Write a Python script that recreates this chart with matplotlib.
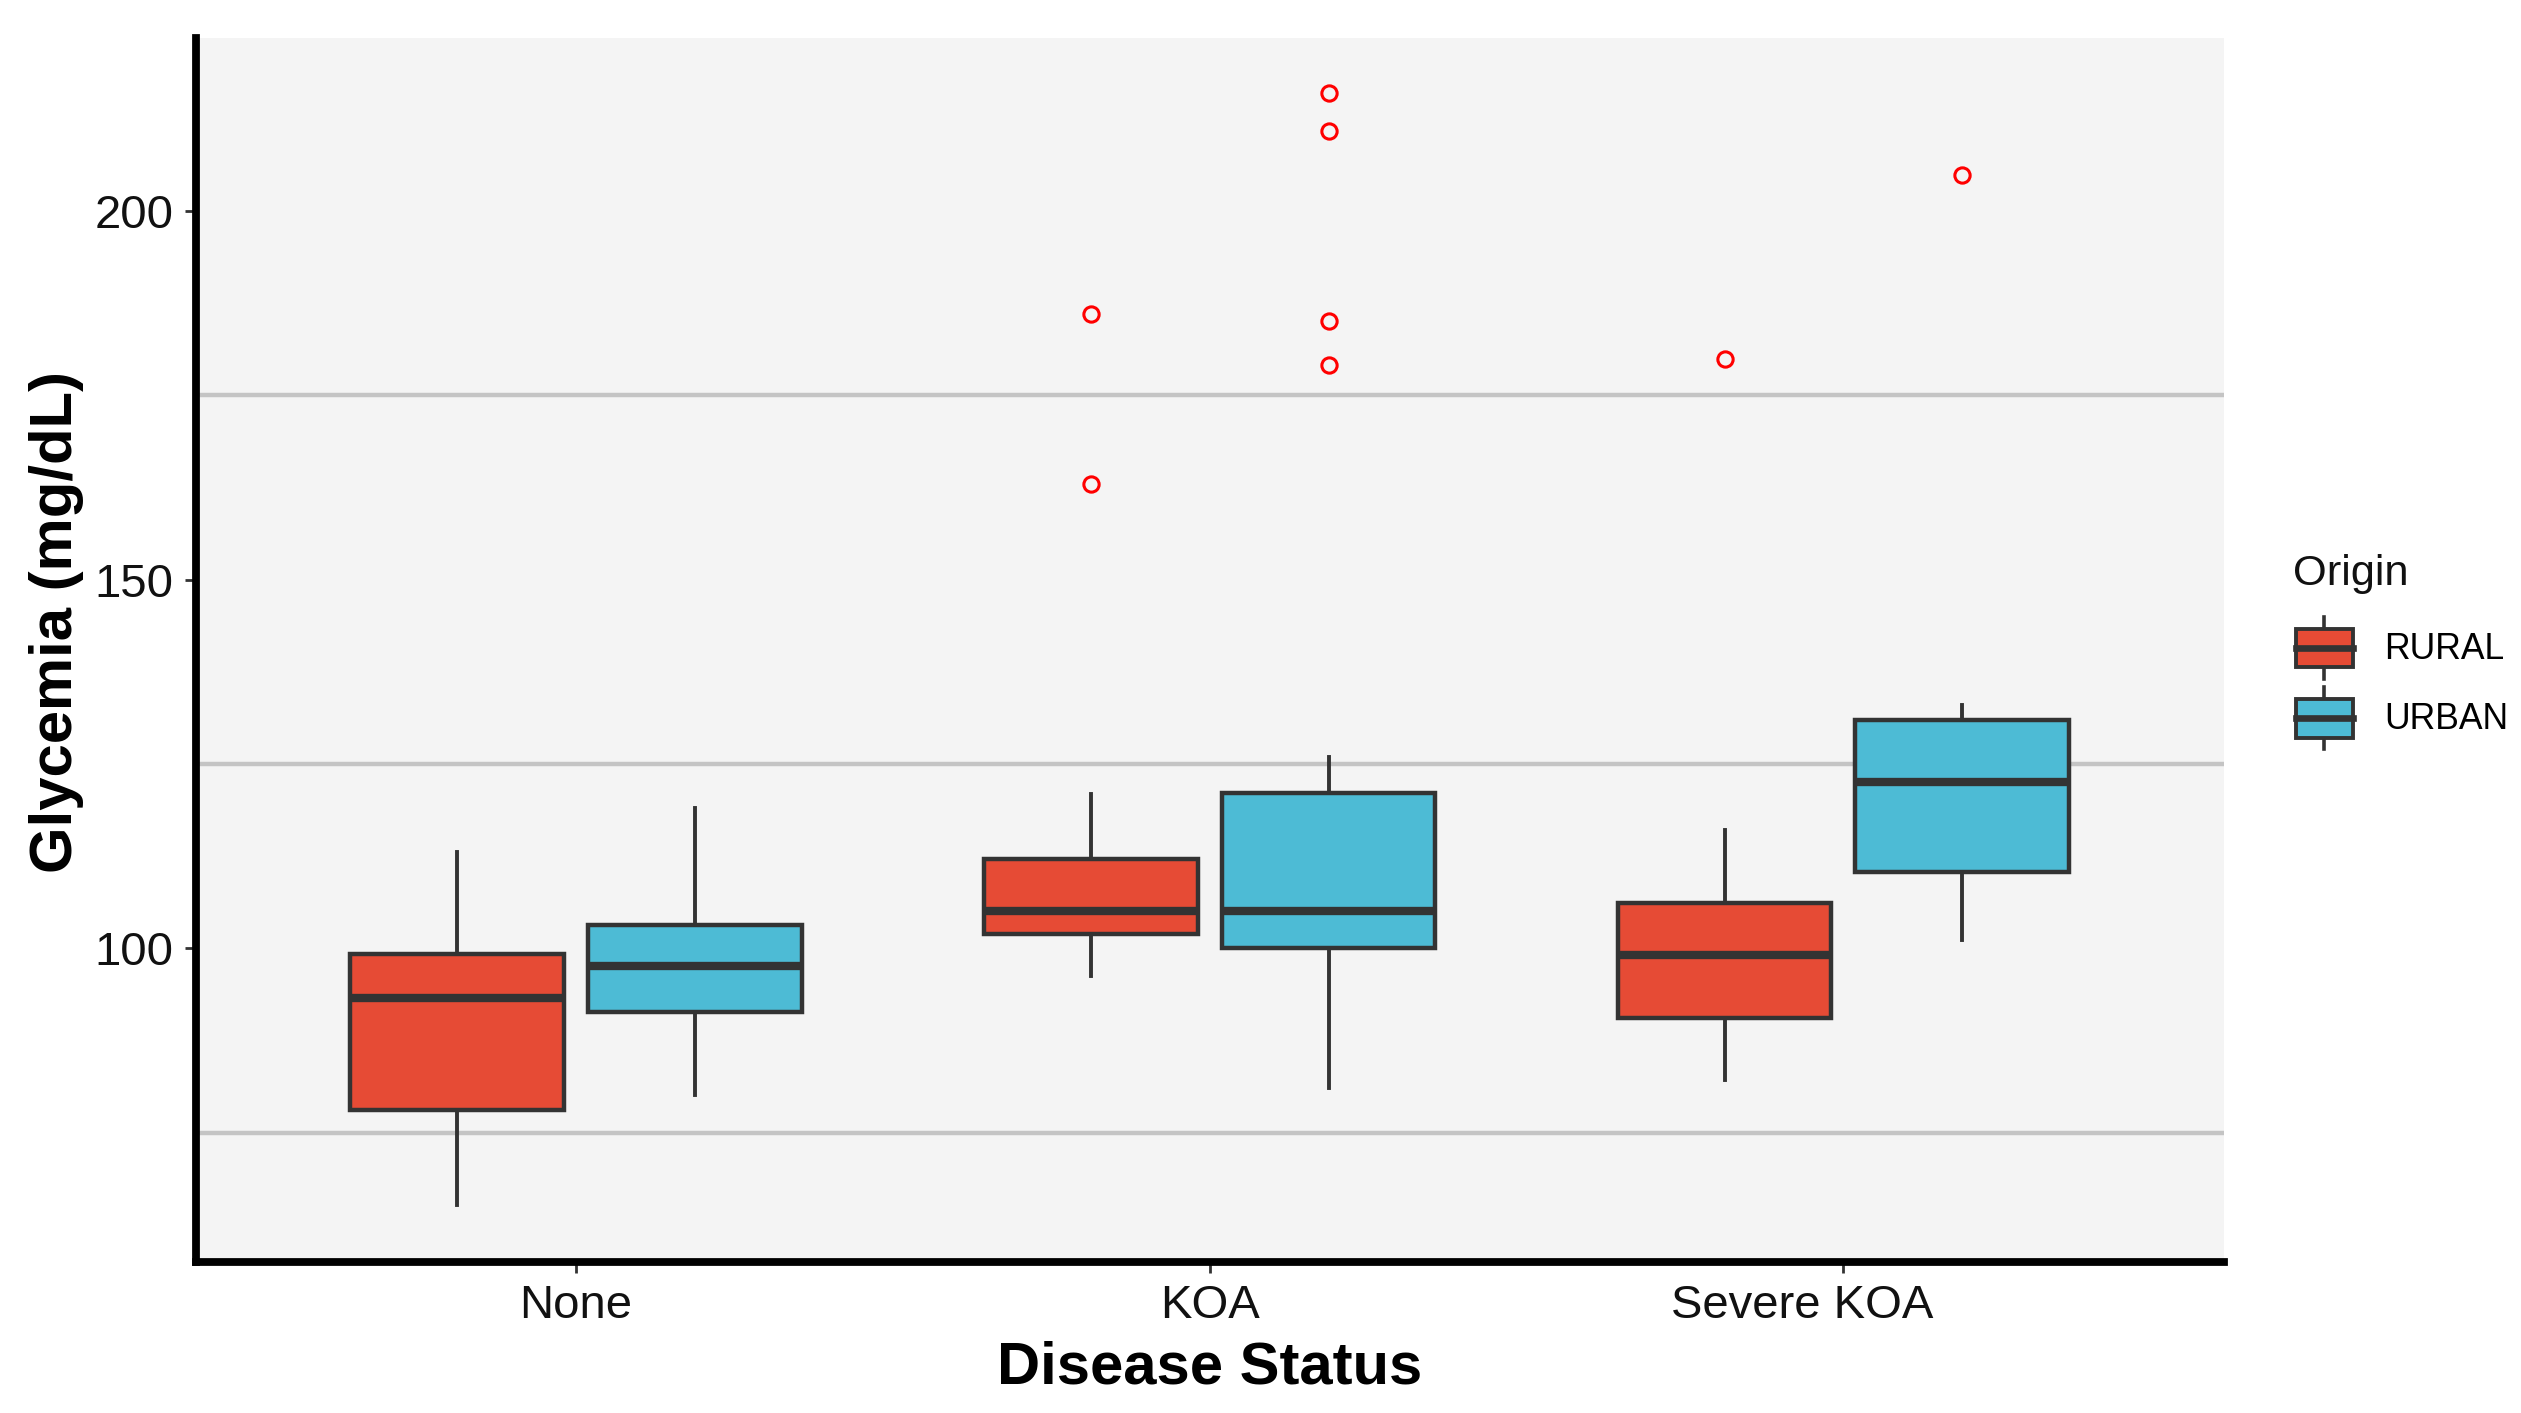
import matplotlib
matplotlib.use("Agg")
import matplotlib.pyplot as plt
import matplotlib.transforms as mtransforms
from matplotlib.patches import Patch, Rectangle
from matplotlib.lines import Line2D
from matplotlib.legend_handler import HandlerBase

plt.rcParams['font.family'] = ['Liberation Sans', 'DejaVu Sans']

# data (mg/dL)
categories = ['None', 'KOA', 'Severe KOA']
origins = ['RURAL', 'URBAN']
colors = {'RURAL': '#E64B35', 'URBAN': '#4DBBD5'}

# per origin: one value per disease-status category
whislo = {'RURAL': [65.2, 96.2, 82.1], 'URBAN': [80.1, 81.0, 101.1]}
q1 = {'RURAL': [78.1, 102.0, 90.6], 'URBAN': [91.4, 100.0, 110.3]}
median = {'RURAL': [93.2, 105.0, 99.1], 'URBAN': [97.6, 105.0, 122.5]}
q3 = {'RURAL': [99.2, 112.1, 106.2], 'URBAN': [103.2, 121.0, 131.0]}
whishi = {'RURAL': [113.0, 120.9, 116.0], 'URBAN': [119.0, 126.0, 133.0]}
outliers = {
    'RURAL': [[], [186.0, 163.0], [179.9]],
    'URBAN': [[], [216.0, 210.8, 185.0, 179.1], [204.9]],
}

EDGE = '#333333'
PANEL = '#F4F4F4'


class BoxKeyHandler(HandlerBase):
    # draws a small boxplot glyph as the legend key, like ggplot does
    def create_artists(self, legend, orig_handle, xdescent, ydescent,
                       width, height, fontsize, trans):
        face = orig_handle.get_facecolor()
        x0 = -xdescent
        y0 = -ydescent
        cx = x0 + width / 2
        bh = height * 0.63
        by = y0 + (height - bh) / 2
        whisk = Line2D([cx, cx], [y0, y0 + height], color=EDGE, lw=1.3, transform=trans)
        box = Rectangle((x0, by), width, bh, facecolor=face, edgecolor=EDGE,
                        lw=1.4, transform=trans)
        med = Line2D([x0, x0 + width], [by + bh / 2] * 2, color=EDGE, lw=2.4,
                     transform=trans)
        return [whisk, box, med]


fig = plt.figure(figsize=(12.605, 7.065), dpi=200)
ax = fig.add_axes([0.0777, 0.107, 0.8043, 0.866])
ax.set_facecolor(PANEL)

offsets = {'RURAL': -0.1875, 'URBAN': 0.1875}
for org in origins:
    stats = []
    for i in range(len(categories)):
        stats.append({
            'med': median[org][i], 'q1': q1[org][i], 'q3': q3[org][i],
            'whislo': whislo[org][i], 'whishi': whishi[org][i],
            'fliers': outliers[org][i],
        })
    pos = [i + 1 + offsets[org] for i in range(len(categories))]
    ax.bxp(stats, positions=pos, widths=0.3375, patch_artist=True,
           showcaps=False, manage_ticks=False,
           boxprops=dict(facecolor=colors[org], edgecolor=EDGE, linewidth=1.6),
           medianprops=dict(color=EDGE, linewidth=3.0, solid_capstyle='butt'),
           whiskerprops=dict(color=EDGE, linewidth=1.4),
           flierprops=dict(marker='o', markerfacecolor='none', markeredgecolor='red',
                           markersize=5.5, markeredgewidth=1.1, linestyle='none'))

ax.set_xlim(0.4, 3.6)
ax.set_ylim(57.5, 223.4)
ax.set_xticks([1, 2, 3])
ax.set_xticklabels(categories)
ax.set_yticks([100, 150, 200])
ax.set_yticks([75, 125, 175], minor=True)
ax.grid(which='minor', axis='y', color='#C4C4C4', linewidth=1.6)
ax.grid(which='major', visible=False)
ax.set_axisbelow(True)

ax.tick_params(axis='both', which='major', labelsize=17, colors=EDGE,
               labelcolor='#111111', length=4, width=1.0, pad=4)
ax.tick_params(axis='y', which='minor', length=0)

# the last category label sits a bit left of its tick in the original
lbl = ax.get_xticklabels()[2]
lbl.set_transform(lbl.get_transform() +
                  mtransforms.ScaledTranslation(-0.205, 0, fig.dpi_scale_trans))

for side in ['top', 'right']:
    ax.spines[side].set_visible(False)
for side in ['left', 'bottom']:
    ax.spines[side].set_linewidth(2.8)
    ax.spines[side].set_color('black')

ax.set_xlabel('Disease Status', fontsize=21.5, fontweight='bold', labelpad=4.5)
ax.set_ylabel('Glycemia (mg/dL)', fontsize=21.5, fontweight='bold')
ax.yaxis.set_label_coords(-0.055, 0.523)

# legend: title as its own text, keys drawn as mini boxplots
fig.text(0.9096, 0.586, 'Origin', fontsize=15.6, ha='left', va='baseline',
         color='#111111')
handles = [Patch(facecolor=colors[o]) for o in origins]
leg = fig.legend(handles, origins, loc='upper left', bbox_to_anchor=(0.9106, 0.5633),
                 frameon=False, fontsize=12.8,
                 handler_map={Patch: BoxKeyHandler()}, handlelength=1.6,
                 handleheight=2.3, labelspacing=0.24, handletextpad=0.9,
                 borderpad=0, borderaxespad=0)

fig.savefig('out.png', dpi=200)
